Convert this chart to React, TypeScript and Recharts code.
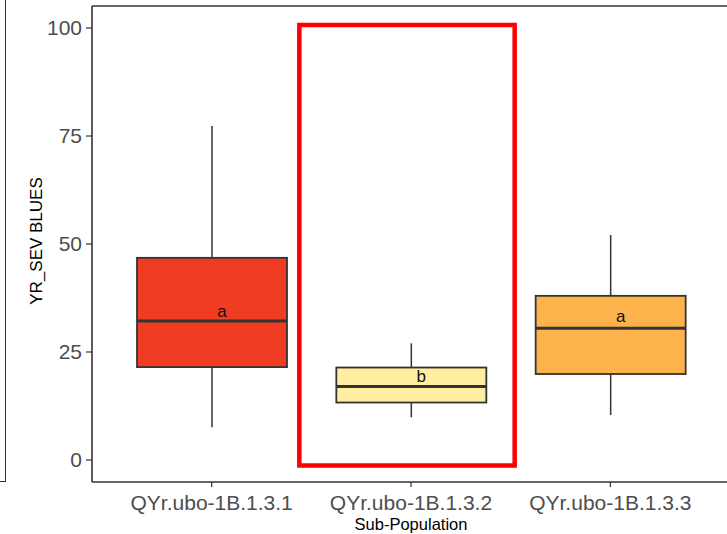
import { ComposedChart, Bar, XAxis, YAxis, ReferenceArea, ReferenceLine } from 'recharts'

// box stats per sub-population
const categories = ['QYr.ubo-1B.1.3.1', 'QYr.ubo-1B.1.3.2', 'QYr.ubo-1B.1.3.3']
const positions = [1, 2, 3]
const whiskerLow = [7.6, 9.9, 10.4]
const q1 = [21.5, 13.3, 19.9]
const median = [32.2, 17.0, 30.5]
const q3 = [46.8, 21.4, 38.0]
const whiskerHigh = [77.3, 27.0, 52.1]
const groupLetters = ['a', 'b', 'a']
const letterY = [33.0, 18.1, 31.9]
const boxColors = ['#F03C23', '#FFEDA0', '#FEB24C']

const yTicks = [0, 25, 50, 75, 100]
const Y_MIN = -5.1
const Y_MAX = 105.1

// highlight box around the second group (x in group units, y in data units)
const highlightX = [1.44, 2.52]
const highlightY = [-1.3, 100.7]

const FONT = '"Liberation Sans", Arial, sans-serif'
const INK = '#333333'

const data = categories.map((name, i) => ({
    name,
    pos: positions[i],
    low: whiskerLow[i],
    q1: q1[i],
    median: median[i],
    q3: q3[i],
    high: whiskerHigh[i],
    letter: groupLetters[i],
    letterY: letterY[i],
    fill: boxColors[i],
}))

function BoxShape(props: any) {
    const { x, y, width, height, payload } = props
    const top = Math.min(y, y + height)
    const h = Math.abs(height)
    const span = payload.high - payload.low
    const py = (v: number) => top + (h * (payload.high - v)) / span
    const cx = x + width / 2
    return (
        <g>
            <line x1={cx} x2={cx} y1={py(payload.high)} y2={py(payload.q3)} stroke={INK} strokeWidth={1.5} />
            <line x1={cx} x2={cx} y1={py(payload.q1)} y2={py(payload.low)} stroke={INK} strokeWidth={1.5} />
            <rect
                x={x}
                y={py(payload.q3)}
                width={width}
                height={py(payload.q1) - py(payload.q3)}
                fill={payload.fill}
                stroke={INK}
                strokeWidth={1.8}
            />
            <line x1={x} x2={x + width} y1={py(payload.median)} y2={py(payload.median)} stroke={INK} strokeWidth={3} />
            <text x={cx + 10} y={py(payload.letterY)} textAnchor="middle" fontSize={17} fill="#111" fontFamily={FONT}>
                {payload.letter}
            </text>
        </g>
    )
}

export default function App() {
    return (
        <div style={{ position: 'absolute', left: 0, top: 0, width: 727, height: 534, overflow: 'hidden', background: '#fff' }}>
            {/* edge of the neighbouring panel */}
            <div
                style={{
                    position: 'absolute',
                    left: 0,
                    top: 0,
                    width: 5,
                    height: 481,
                    borderRight: `1.6px solid ${INK}`,
                    borderBottom: `1.6px solid ${INK}`,
                }}
            />
            <div style={{ position: 'absolute', left: 0, top: 0 }}>
                <ComposedChart
                    width={740}
                    height={534}
                    data={data}
                    margin={{ top: 6, right: 10, bottom: 0, left: 8 }}
                    style={{ fontFamily: FONT }}
                >
                    <XAxis
                        xAxisId="cat"
                        dataKey="name"
                        type="category"
                        padding={{ left: 20, right: 20 }}
                        height={52}
                        axisLine={{ stroke: INK, strokeWidth: 1.6 }}
                        tickLine={{ stroke: INK, strokeWidth: 1.2 }}
                        tickSize={5}
                        tickMargin={8}
                        tick={{ fill: '#4D4D4D', fontSize: 21 }}
                        interval={0}
                        label={{ value: 'Sub-Population', position: 'insideBottom', offset: 4, fill: '#000', fontSize: 16.5 }}
                    />
                    <XAxis xAxisId="pos" dataKey="pos" type="number" domain={[0.4, 3.6]} hide />
                    <YAxis
                        type="number"
                        domain={[Y_MIN, Y_MAX]}
                        ticks={yTicks}
                        width={84}
                        axisLine={{ stroke: INK, strokeWidth: 1.6 }}
                        tickLine={{ stroke: INK, strokeWidth: 1.2 }}
                        tickSize={6}
                        tickMargin={4}
                        tick={{ fill: '#4D4D4D', fontSize: 21 }}
                        allowDataOverflow
                        label={{
                            content: () => (
                                <text
                                    x={42}
                                    y={241}
                                    transform="rotate(-90, 42, 241)"
                                    textAnchor="middle"
                                    fontSize={17}
                                    fill="#000"
                                    fontFamily={FONT}
                                >
                                    YR_SEV BLUES
                                </text>
                            ),
                        }}
                    />
                    <ReferenceLine xAxisId="pos" y={Y_MAX} stroke={INK} strokeWidth={1.6} />
                    <Bar
                        xAxisId="cat"
                        dataKey={(d: any) => [d.low, d.high]}
                        barSize={150}
                        shape={BoxShape}
                        isAnimationActive={false}
                    />
                    <ReferenceArea
                        xAxisId="pos"
                        x1={highlightX[0]}
                        x2={highlightX[1]}
                        y1={highlightY[0]}
                        y2={highlightY[1]}
                        fill="none"
                        fillOpacity={0}
                        stroke="#FF0000"
                        strokeWidth={4.5}
                        strokeOpacity={1}
                    />
                </ComposedChart>
            </div>
        </div>
    )
}
